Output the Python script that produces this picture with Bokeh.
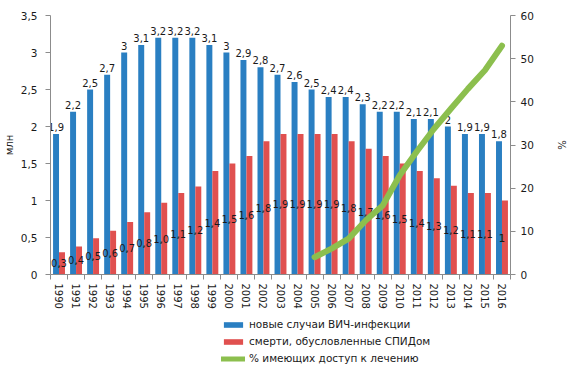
import numpy as np
from bokeh.plotting import figure
from bokeh.layouts import column
from bokeh.models import (Range1d, LinearAxis, FixedTicker, CustomJSTickFormatter,
                          ColumnDataSource, Legend, LegendItem)
from bokeh.core.properties import value
from bokeh.embed import file_html
from bokeh.resources import INLINE

years = [str(y) for y in range(1990, 2017)]
new_cases = [1.9, 2.2, 2.5, 2.7, 3.0, 3.1, 3.2, 3.2, 3.2, 3.1, 3.0, 2.9, 2.8, 2.7,
             2.6, 2.5, 2.4, 2.4, 2.3, 2.2, 2.2, 2.1, 2.1, 2.0, 1.9, 1.9, 1.8]
deaths = [0.3, 0.38, 0.49, 0.59, 0.71, 0.84, 0.97, 1.1, 1.19, 1.4, 1.5, 1.6, 1.8, 1.9,
          1.9, 1.9, 1.9, 1.8, 1.7, 1.6, 1.5, 1.4, 1.3, 1.2, 1.1, 1.1, 1.0]
death_labels = ["0,3", "0,4", "0,5", "0,6", "0,7", "0,8", "1,0", "1,1", "1,2", "1,4",
                "1,5", "1,6", "1,8", "1,9", "1,9", "1,9", "1,9", "1,8", "1,7", "1,6",
                "1,5", "1,4", "1,3", "1,2", "1,1", "1,1", "1"]
access_years = [str(y) for y in range(2005, 2017)]
access_pct = [4.0, 6.0, 8.3, 12.5, 16.0, 23.0, 28.5, 33.7, 38.4, 43.0, 47.3, 53.0]
series_names = ["новые случаи ВИЧ-инфекции", "смерти, обусловленные СПИДом",
                "% имеющих доступ к лечению"]

BLUE = "#2A7FC2"
RED = "#E0504F"
GREEN = "#8CBF4E"
FONT = "DejaVu Sans"
AXIS_C = "#8C8C8C"
TXT_C = "#1A1A1A"

xs = np.arange(len(years))
src = ColumnDataSource(dict(
    xb=xs - 0.175, xr=xs + 0.175, xc=xs,
    new=new_cases, dead=deaths, dead_mid=np.array(deaths) / 2,
    new_lab=[f"{v:g}".replace(".", ",") for v in new_cases],
    dead_lab=death_labels,
))
ax = [years.index(y) for y in access_years]

p = figure(frame_width=460, frame_height=259, output_backend="svg", toolbar_location=None,
           x_range=Range1d(-0.5, len(years) - 0.5), y_range=Range1d(0, 3.5),
           min_border_left=48, min_border_right=61, min_border_top=15, min_border_bottom=36)
p.outline_line_color = None
p.xgrid.visible = False
p.ygrid.visible = False
p.xaxis.visible = False
p.yaxis.visible = False

p.extra_y_ranges = {"pct": Range1d(0, 60)}

p.vbar(x="xb", top="new", width=0.35, source=src, fill_color=BLUE, line_color=None)
p.vbar(x="xr", top="dead", width=0.35, source=src, fill_color=RED, line_color=None)

p.text(x="xb", y="new", text="new_lab", source=src, text_align="center",
       text_baseline="bottom", y_offset=-3, text_font=value(FONT),
       text_font_size="10px", text_color=TXT_C)
p.text(x="xc", y="dead_mid", text="dead_lab", source=src, text_align="center",
       text_baseline="middle", text_font=value(FONT),
       text_font_size="10px", text_color=TXT_C)

p.line(x=ax, y=access_pct, y_range_name="pct", line_color=GREEN,
       line_width=6, line_cap="round", line_join="round")

fmt = CustomJSTickFormatter(code="return String(tick).replace('.', ',');")

xaxis = LinearAxis(ticker=FixedTicker(ticks=list(xs), minor_ticks=list(np.arange(-0.5, len(years), 1.0))),
                   formatter=CustomJSTickFormatter(args=dict(years=years),
                                                   code="const i = Math.round(tick); return (i >= 0 && i < years.length) ? years[i] : '';"))
xaxis.major_tick_out = 0
xaxis.major_tick_in = 0
xaxis.minor_tick_out = 5
xaxis.minor_tick_in = 0
xaxis.major_label_orientation = "vertical"
xaxis.major_label_standoff = 4
p.add_layout(xaxis, "below")

yaxis = LinearAxis(ticker=FixedTicker(ticks=[0, 0.5, 1, 1.5, 2, 2.5, 3, 3.5]), formatter=fmt,
                   axis_label="млн")
yaxis.axis_label_standoff = 3
yaxis.major_label_standoff = 8
p.add_layout(yaxis, "left")

y2 = LinearAxis(y_range_name="pct", ticker=FixedTicker(ticks=[0, 10, 20, 30, 40, 50, 60]),
                formatter=fmt, axis_label="%")
y2.axis_label_standoff = 19
y2.major_label_standoff = 5
p.add_layout(y2, "right")

for a in (xaxis, yaxis, y2):
    a.axis_line_color = AXIS_C
    a.major_tick_line_color = AXIS_C
    a.minor_tick_line_color = AXIS_C
    a.major_label_text_font = FONT
    a.major_label_text_font_size = "10.5px"
    a.major_label_text_color = TXT_C
    a.axis_label_text_font = FONT
    a.axis_label_text_font_size = "10px"
    a.axis_label_text_font_style = "normal"
    a.axis_label_text_color = TXT_C
xaxis.major_label_text_font_size = "10px"
for a in (yaxis, y2):
    a.major_tick_out = 5
    a.major_tick_in = 0
    a.minor_tick_out = 0
    a.minor_tick_in = 0

# legend strip below the chart; swatch renderers hold one invisible (zero-size) item
lg = figure(width=569, height=60, output_backend="svg", toolbar_location=None,
            x_range=Range1d(0, 1), y_range=Range1d(0, 1),
            min_border_left=0, min_border_right=0, min_border_top=0, min_border_bottom=0)
lg.outline_line_color = None
lg.xaxis.visible = False
lg.yaxis.visible = False
lg.xgrid.visible = False
lg.ygrid.visible = False
dummy = ColumnDataSource(dict(x=[0.5], y=[0.0], n=[np.nan]))
rb = lg.vbar(x="x", top="y", bottom="y", width=0.0, source=dummy, fill_color=BLUE, line_color=None)
rr = lg.vbar(x="x", top="y", bottom="y", width=0.0, source=dummy, fill_color=RED, line_color=None)
rg = lg.line(x="x", y="n", source=dummy, line_color=GREEN, line_width=5, line_cap="round")

legend = Legend(items=[
    LegendItem(label=series_names[0], renderers=[rb]),
    LegendItem(label=series_names[1], renderers=[rr]),
    LegendItem(label=series_names[2], renderers=[rg]),
], location=(171, 6))
legend.label_text_font = FONT
legend.label_text_font_size = "10.5px"
legend.label_text_color = TXT_C
legend.glyph_width = 24
legend.glyph_height = 7
legend.label_height = 14
legend.spacing = 3
legend.label_standoff = 4
legend.padding = 0
legend.margin = 0
legend.border_line_color = None
legend.background_fill_alpha = 0
lg.add_layout(legend, "center")

layout = column(p, lg, spacing=0)
open("out.html", "w").write(file_html(layout, INLINE))
